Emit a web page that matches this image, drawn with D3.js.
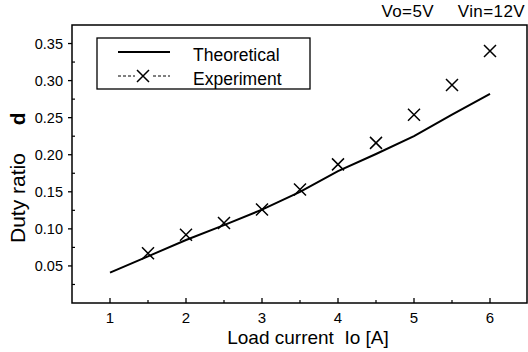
<!DOCTYPE html>
<html><head><meta charset="utf-8">
<script src="https://cdn.jsdelivr.net/npm/d3@7"></script>
<style>html,body{margin:0;padding:0;background:#fff;}svg{display:block;font-family:"Liberation Sans",Arial,sans-serif;}</style>
</head><body>
<script>
const theoX = [1.0, 1.5, 2.0, 2.5, 3.0, 3.5, 4.0, 4.5, 5.0, 5.5, 6.0];
const theoY = [0.041, 0.063, 0.085, 0.105, 0.126, 0.150, 0.178, 0.201, 0.225, 0.254, 0.282];
const expX = [1.5, 2.0, 2.5, 3.0, 3.5, 4.0, 4.5, 5.0, 5.5, 6.0];
const expY = [0.067, 0.092, 0.108, 0.126, 0.153, 0.187, 0.216, 0.254, 0.294, 0.340];
const xTicks = [1, 2, 3, 4, 5, 6];
const yTicks = [0.05, 0.10, 0.15, 0.20, 0.25, 0.30, 0.35];
const seriesNames = ["Theoretical", "Experiment"];

const W = 528, H = 352;
const m = {l: 72, t: 25, r: 527, b: 303};
const svg = d3.select("body").append("svg").attr("width", W).attr("height", H);
const x = d3.scaleLinear().domain([0.5, 6.5]).range([m.l, m.l + 456]);
const y = d3.scaleLinear().domain([0, 0.375]).range([m.b, m.t]);

// frame
svg.append("rect").attr("x", m.l).attr("y", m.t).attr("width", m.r - m.l).attr("height", m.b - m.t)
  .attr("fill", "none").attr("stroke", "#000").attr("stroke-width", 1.5);

// x axis ticks (inward)
const xMinor = d3.range(1.5, 6.5, 1);
svg.append("g").selectAll("line").data(xTicks).join("line")
  .attr("x1", d => x(d)).attr("x2", d => x(d)).attr("y1", m.b).attr("y2", m.b - 5)
  .attr("stroke", "#000").attr("stroke-width", 1.3);
svg.append("g").selectAll("line").data(xMinor).join("line")
  .attr("x1", d => x(d)).attr("x2", d => x(d)).attr("y1", m.b).attr("y2", m.b - 3)
  .attr("stroke", "#000").attr("stroke-width", 1.2);
svg.append("g").selectAll("text").data(xTicks).join("text")
  .attr("x", d => x(d)).attr("y", 323).attr("text-anchor", "middle")
  .attr("font-size", 15).text(d => d);

// y axis ticks
const yMinor = d3.range(0.025, 0.375, 0.05);
svg.append("g").selectAll("line").data(yTicks).join("line")
  .attr("x1", m.l - 4).attr("x2", m.l).attr("y1", d => y(d)).attr("y2", d => y(d))
  .attr("stroke", "#000").attr("stroke-width", 1.3);
svg.append("g").selectAll("line").data(yMinor).join("line")
  .attr("x1", m.l).attr("x2", m.l + 3).attr("y1", d => y(d)).attr("y2", d => y(d))
  .attr("stroke", "#000").attr("stroke-width", 1.2);
svg.append("g").selectAll("text").data(yTicks).join("text")
  .attr("x", 63).attr("y", d => y(d) + 5).attr("text-anchor", "end")
  .attr("font-size", 14.5).text(d => d3.format(".2f")(d));

// theoretical line
const line = d3.line().x(d => x(d[0])).y(d => y(d[1]));
svg.append("path").datum(d3.zip(theoX, theoY)).attr("d", line)
  .attr("fill", "none").attr("stroke", "#000").attr("stroke-width", 2);

// experiment markers
const s = 6;
const mk = svg.append("g").selectAll("g").data(d3.zip(expX, expY)).join("g")
  .attr("transform", d => `translate(${x(d[0])},${y(d[1])})`);
mk.append("path").attr("d", `M${-s},${-s}L${s},${s}M${-s},${s}L${s},${-s}`)
  .attr("stroke", "#000").attr("stroke-width", 1.5).attr("fill", "none");

// legend
svg.append("rect").attr("x", 97).attr("y", 38).attr("width", 213).attr("height", 51)
  .attr("fill", "#fff").attr("stroke", "#000").attr("stroke-width", 1.3);
svg.append("line").attr("x1", 118).attr("x2", 170).attr("y1", 52).attr("y2", 52)
  .attr("stroke", "#000").attr("stroke-width", 2);
svg.append("line").attr("x1", 118).attr("x2", 170).attr("y1", 76).attr("y2", 76)
  .attr("stroke", "#000").attr("stroke-width", 1).attr("stroke-dasharray", "3,2");
svg.append("rect").attr("x", 135).attr("y", 70).attr("width", 16).attr("height", 12).attr("fill", "#fff");
svg.append("path").attr("d", `M${143 - 6},${70}L${143 + 6},${82}M${143 - 6},${82}L${143 + 6},${70}`)
  .attr("stroke", "#000").attr("stroke-width", 1.5).attr("fill", "none");
svg.append("text").attr("x", 193).attr("y", 61).attr("font-size", 17.5).text(seriesNames[0]);
svg.append("text").attr("x", 193).attr("y", 85).attr("font-size", 17.5).text(seriesNames[1]);

// annotation
svg.append("text").attr("x", 434).attr("y", 17).attr("text-anchor", "end")
  .attr("font-size", 17).attr("letter-spacing", 0.4).text("Vo=5V");
svg.append("text").attr("x", 525).attr("y", 17).attr("text-anchor", "end")
  .attr("font-size", 17).attr("letter-spacing", 0.4).text("Vin=12V");

// axis labels
svg.append("text").attr("x", 308).attr("y", 344).attr("text-anchor", "middle")
  .attr("font-size", 19).attr("xml:space", "preserve").text("Load current  Io [A]");
const yl = svg.append("text").attr("transform", "translate(25,243) rotate(-90)")
  .attr("text-anchor", "start").attr("font-size", 21).attr("xml:space", "preserve");
yl.append("tspan").text("Duty ratio");
yl.append("tspan").attr("dx", 28).attr("font-weight", "bold").text("d");
</script>
</body></html>
